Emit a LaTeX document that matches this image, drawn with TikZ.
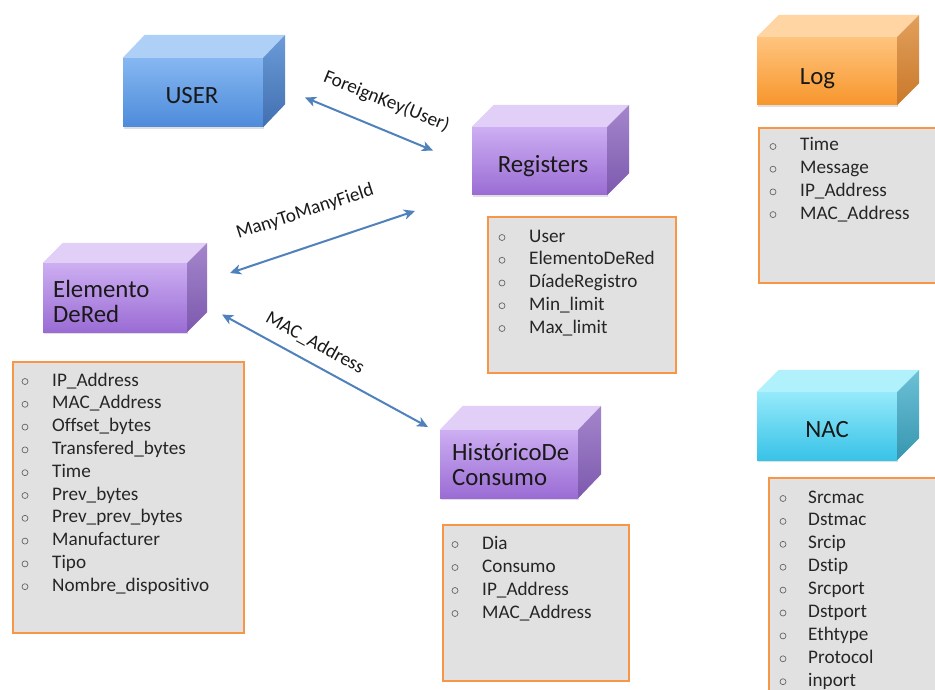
\documentclass[tikz,border=0pt]{standalone}
\usepackage{fontspec}
\setmainfont{Carlito}[Ligatures=NoCommon]
\usetikzlibrary{arrows.meta,shadows}
\definecolor{arrowblue}{HTML}{4F81BD}
\definecolor{boxorange}{HTML}{F79646}
\definecolor{boxfill}{HTML}{E1E1E1}
% palettes: front top, front bottom, top face, right top, right bottom
\definecolor{blueFT}{HTML}{86B7F1}\definecolor{blueFB}{HTML}{4D8BDA}\definecolor{blueTP}{HTML}{AED0F7}\definecolor{blueRT}{HTML}{6C9BD8}\definecolor{blueRB}{HTML}{416FB0}
\definecolor{purpFT}{HTML}{CDAEF2}\definecolor{purpFB}{HTML}{9A6CD4}\definecolor{purpTP}{HTML}{E2CFF8}\definecolor{purpRT}{HTML}{A486CC}\definecolor{purpRB}{HTML}{7D59AE}
\definecolor{orngFT}{HTML}{FFC47E}\definecolor{orngFB}{HTML}{F7962C}\definecolor{orngTP}{HTML}{FFD6A3}\definecolor{orngRT}{HTML}{E2A05C}\definecolor{orngRB}{HTML}{C9782A}
\definecolor{cyanFT}{HTML}{96EAFB}\definecolor{cyanFB}{HTML}{38C2E7}\definecolor{cyanTP}{HTML}{B0F1FC}\definecolor{cyanRT}{HTML}{6CC1D6}\definecolor{cyanRB}{HTML}{3696B0}
\newcommand{\drawcube}[8]{% name, x1, y1, x2, y2, palette, dx, dy
  \node[cubefront, drop shadow={opacity=0.25,shadow xshift=1pt,shadow yshift=-2pt},
        top color=#6FT, bottom color=#6FB,
        minimum width={#4pt-#2pt}, minimum height={#5pt-#3pt}]
        (#1) at ({(#2+#4)/2},{(#3+#5)/2}) {};
  \fill[#6TP] (#1.north west) -- ++(#7,-#8) -- ([shift={(#7,-#8)}]#1.north east) -- (#1.north east) -- cycle;
  \shade[top color=#6RT, bottom color=#6RB] (#1.north east) -- ++(#7,-#8) -- ([shift={(#7,-#8)}]#1.south east) -- (#1.south east) -- cycle;
}
\newcommand{\attrlist}[6]{% prefix, bullet x, text x, first baseline, step, items
  \foreach \t [count=\i from 0] in {#6} {
    \draw[bul] (#2,{#4+\i*#5-4.5}) circle[radius=3pt];
    \node[attr] (#1-\i) at (#3,{#4+\i*#5}) {\t};
  }
}
\begin{document}
\begin{tikzpicture}[x=1pt,y=-1pt,
  cubefront/.style={inner sep=0pt, draw=none, rectangle},
  cubetxt/.style={inner sep=0pt, font=\fontsize{24.8}{25}\selectfont, text=black!90},
  listbox/.style={draw=boxorange, line width=1.6pt, fill=boxfill, inner sep=0pt, anchor=north west},
  attr/.style={anchor=base west, inner sep=0pt, font=\fontsize{19.2}{21}\selectfont, text=black!85},
  bul/.style={draw=black!60, line width=0.7pt},
  rel/.style={draw=arrowblue, line width=2pt, arrows={Stealth[length=11pt,width=10pt,inset=3pt]-Stealth[length=11pt,width=10pt,inset=3pt]}},
  lbl/.style={inner sep=0pt, font=\fontsize{19.2}{21}\selectfont, text=black!90}
]
\useasboundingbox (0,0) rectangle (935,690);
\clip (0,0) rectangle (935,690);
\fill[white] (0,0) rectangle (935,690);

% cubes
\drawcube{user}{123}{58}{263}{127}{blue}{22}{23}
\node[cubetxt, anchor=base] (user-t) at (192,104) {USER};

\drawcube{reg}{472}{127}{607}{195}{purp}{22}{22}
\node[cubetxt, anchor=base] (reg-t) at (543,173) {Registers};

\drawcube{log}{757}{37}{897}{105}{orng}{22}{22}
\node[cubetxt, anchor=base] (log-t) at (817.5,85) {Log};

\drawcube{elem}{43}{263}{187}{332}{purp}{20}{20}
\node[cubetxt, anchor=base west, align=left] (elem-t) at (53,322) {Elemento\\DeRed};

\drawcube{hist}{440}{430}{578}{498}{purp}{23}{24}
\node[cubetxt, anchor=base west, align=left] (hist-t) at (452,485) {HistóricoDe\\Consumo};

\drawcube{nac}{757}{392}{897}{460}{cyan}{22}{22}
\node[cubetxt, anchor=base] (nac-t) at (827,437) {NAC};

% list boxes
\node[listbox, minimum width=182pt, minimum height=155pt] (log-box) at (758,127) {};
\attrlist{log}{773}{800}{151}{22.7}{Time,Message,IP\_Address,MAC\_Address}

\node[listbox, minimum width=188pt, minimum height=156pt] (reg-box) at (487,216) {};
\attrlist{reg}{502}{529}{242}{22.75}{User,ElementoDeRed,DíadeRegistro,Min\_limit,Max\_limit}

\node[listbox, minimum width=231pt, minimum height=271pt] (elem-box) at (12,361) {};
\attrlist{elem}{25}{52}{386}{22.8}{IP\_Address,MAC\_Address,Offset\_bytes,Transfered\_bytes,Time,Prev\_bytes,Prev\_prev\_bytes,Manufacturer,Tipo,Nombre\_dispositivo}

\node[listbox, minimum width=186pt, minimum height=156pt] (hist-box) at (442,524) {};
\attrlist{hist}{455}{482}{549}{23}{Dia,Consumo,IP\_Address,MAC\_Address}

\node[listbox, minimum width=180pt, minimum height=230pt] (nac-box) at (768,477) {};
\attrlist{nac}{783}{808}{503}{22.9}{Srcmac,Dstmac,Srcip,Dstip,Srcport,Dstport,Ethtype,Protocol,inport}

% relations
\coordinate (fkA) at (305,97.5);
\coordinate (fkB) at (433,150.5);
\draw[rel] (fkA) -- (fkB);
\node[lbl, rotate=-22] (fk-l) at (386.5,101.5) {ForeignKey(User)};

\coordinate (mmA) at (230,273);
\coordinate (mmB) at (415,211);
\draw[rel] (mmA) -- (mmB);
\node[lbl, rotate=18] (mm-l) at (305,212) {ManyToManyField};

\coordinate (maA) at (222,314.5);
\coordinate (maB) at (428,427);
\draw[rel] (maA) -- (maB);
\node[lbl, rotate=-29] (ma-l) at (315,343) {MAC\_Address};
\end{tikzpicture}
\end{document}
